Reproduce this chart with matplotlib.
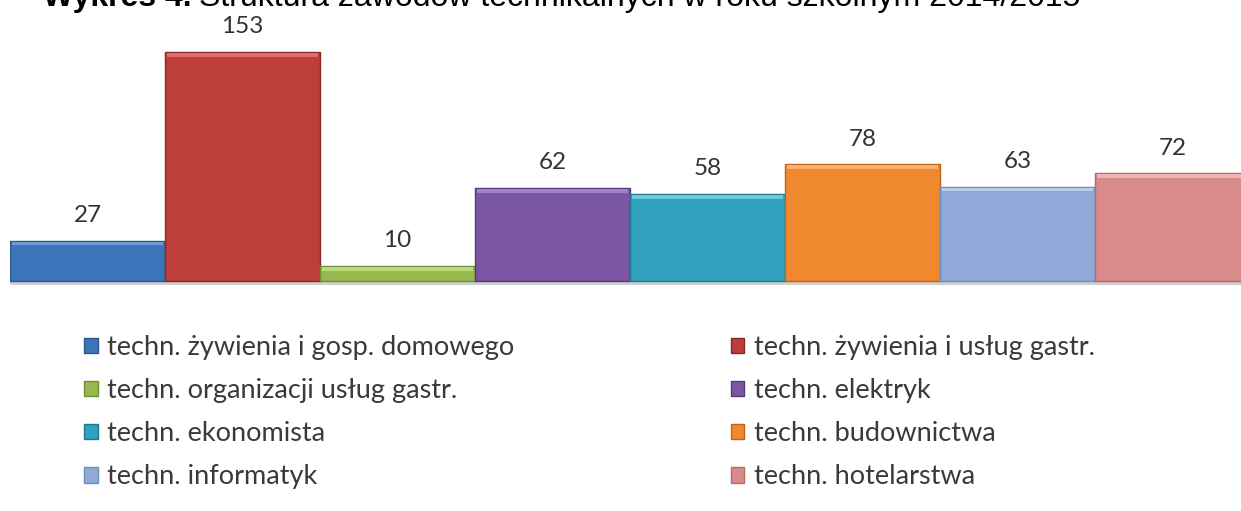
import matplotlib.pyplot as plt
from matplotlib.patches import Patch

labels = ["techn. żywienia i gosp. domowego", "techn. żywienia i usług gastr.",
          "techn. organizacji usług gastr.", "techn. elektryk",
          "techn. ekonomista", "techn. budownictwa",
          "techn. informatyk", "techn. hotelarstwa"]
values = [27, 153, 10, 62, 58, 78, 63, 72]
colors = ["#3d73b8", "#bd3e3a", "#95b94f", "#7a56a3",
          "#30a2be", "#f0892e", "#8faad8", "#d88b8a"]
lights = ["#6f9ad6", "#de6f6b", "#bbd97c", "#a283c8",
          "#6ccbe2", "#fbb070", "#b8ccee", "#eeb3b2"]
edges = ["#2c568c", "#862a28", "#6f8f33", "#563a7a",
         "#1f7890", "#c0621a", "#6f8dbf", "#b86966"]

W, H = 1241, 511
fig = plt.figure(figsize=(W / 100, H / 100), dpi=100)
plt.rcParams['font.family'] = ['Lato', 'DejaVu Sans']

# axes: bars start at x=10px, each ~155px wide, baseline at y=281px
scale = 1.497  # px per unit
ax = fig.add_axes([10 / W, (H - 281 - 3 * scale) / H, 1240 / W, 173 * scale / H])
x = list(range(len(values)))
bars = ax.bar(x, values, width=1.0, color=colors, edgecolor=edges,
              linewidth=1.0, zorder=2)
# light bevel strip along the top of each bar
ax.bar(x, [2.5] * len(values), width=0.97, bottom=[v - 3.2 for v in values],
       color=lights, linewidth=0, zorder=3)
ax.axhline(-1.2, color="#cfcfcf", linewidth=2.5, zorder=1)
for i, v in enumerate(values):
    ax.text(i, v + 12.5, str(v), ha="center", va="baseline", fontsize=17.5,
            color="#333333")
ax.set_xlim(-0.5, 7.5)
ax.set_ylim(-3, 170)
ax.axis("off")

# title, cut at the top edge like in the original
t1 = fig.text(43 / W, (H - 6) / H, "Wykres 4.", fontsize=23,
              fontweight="bold", family="Liberation Sans", va="baseline")
fig.canvas.draw()
bb = t1.get_window_extent()
fig.text((bb.x1 + 7) / W, (H - 6) / H,
         "Struktura zawodów technikalnych w roku szkolnym 2014/2015",
         fontsize=23, family="Liberation Sans", va="baseline")

# legend, row-wise order in two columns
order = [0, 2, 4, 6, 1, 3, 5, 7]
handles = [Patch(facecolor=colors[i], edgecolor=edges[i], label=labels[i])
           for i in order]
fig.legend(handles=handles, ncol=2, loc="upper left",
           bbox_to_anchor=(84 / W, (H - 335) / H), frameon=False,
           fontsize=19.5, handlelength=0.5, handleheight=0.5,
           handletextpad=0.35, columnspacing=8.0, labelspacing=0.67,
           labelcolor="#3a3a3a", borderaxespad=0, borderpad=0)

fig.savefig("out.png", dpi=100)
